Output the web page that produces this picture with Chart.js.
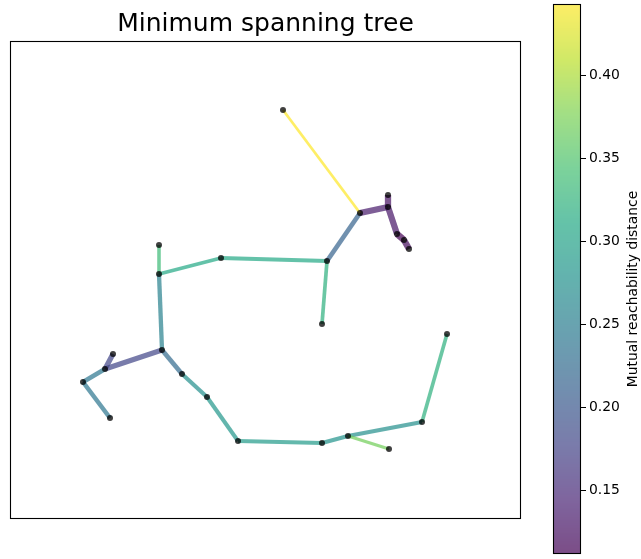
<!DOCTYPE html>
<html>
<head>
<meta charset="utf-8">
<script src="https://cdn.jsdelivr.net/npm/chart.js@4/dist/chart.umd.min.js"></script>
<style>
  html, body { margin: 0; padding: 0; background: #fff; }
  #wrap { position: relative; width: 641px; height: 559px; }
  #tree { position: absolute; left: 0; top: 0; }
  #cbar { position: absolute; left: 540px; top: 0; }
</style>
</head>
<body>
<div id="wrap">
  <canvas id="tree" width="641" height="559"></canvas>
  <canvas id="cbar" width="101" height="559"></canvas>
</div>
<script>
// Node positions of the minimum spanning tree
const nodeX = [273, 350, 378, 378, 387, 394, 399, 317, 312, 211, 149, 149, 152,
               95, 103, 73, 100, 172, 197, 228, 312, 338, 379, 412, 437];
const nodeY = [409, 306, 324, 312, 285, 279, 270, 258, 195, 261, 245, 274, 169,
               150, 165, 137, 101, 145, 122, 78, 76, 83, 70, 97, 185];

// Tree edges (node index pairs) and their mutual reachability distance
const edgeFrom = [0, 1, 3, 3, 4, 5, 1, 7, 7, 9, 10, 10, 12, 13, 13, 15, 12, 17, 18, 19, 20, 21, 21, 23];
const edgeTo   = [1, 3, 2, 4, 5, 6, 7, 8, 9, 10, 11, 12, 13, 14, 15, 16, 17, 18, 19, 20, 21, 22, 23, 24];
const edgeDist = [0.443, 0.135, 0.125, 0.13, 0.112, 0.12, 0.215, 0.32, 0.31, 0.31, 0.335, 0.255,
                  0.18, 0.18, 0.24, 0.24, 0.225, 0.275, 0.285, 0.29, 0.28, 0.37, 0.275, 0.32];

// Colour bar range and tick labels
const cbarMin = 0.112;
const cbarMax = 0.443;
const cbarTicks = [0.15, 0.20, 0.25, 0.30, 0.35, 0.40];

const FONT = "'DejaVu Sans', sans-serif";
const EDGE_ALPHA = 0.7;

// viridis colormap
const VIRIDIS = ['#440154', '#482475', '#414487', '#355f8d', '#2a788e', '#21918c',
                 '#22a884', '#44bf70', '#7ad151', '#bddf26', '#fde725'].map(h => [
  parseInt(h.slice(1, 3), 16), parseInt(h.slice(3, 5), 16), parseInt(h.slice(5, 7), 16)]);
function viridis(t, a) {
  t = Math.max(0, Math.min(1, t)) * (VIRIDIS.length - 1);
  const i = Math.min(VIRIDIS.length - 2, Math.floor(t));
  const f = t - i;
  const c = VIRIDIS[i].map((v, k) => Math.round(v + (VIRIDIS[i + 1][k] - v) * f));
  return `rgba(${c[0]},${c[1]},${c[2]},${a})`;
}
const norm = d => (d - cbarMin) / (cbarMax - cbarMin);

// Edge width shrinks with distance: 2pt * (log(max/d) + 1)
const dMax = Math.max(...edgeDist);
const widthFor = d => 2 * (Math.log(dMax / d) + 1) * (100 / 72);

const nodes = nodeX.map((x, i) => ({ x, y: nodeY[i] }));

const datasets = [{
  label: 'nodes',
  data: nodes,
  order: 0,
  pointRadius: 3,
  pointHoverRadius: 3,
  pointBackgroundColor: 'rgba(0,0,0,0.75)',
  pointBorderWidth: 0,
  showLine: false
}];
edgeFrom.forEach((a, k) => {
  const b = edgeTo[k];
  datasets.push({
    label: 'edge' + k,
    data: [nodes[a], nodes[b]],
    order: 1,
    showLine: true,
    borderColor: viridis(norm(edgeDist[k]), EDGE_ALPHA),
    borderWidth: widthFor(edgeDist[k]),
    borderCapStyle: 'butt',
    pointRadius: 0,
    pointHoverRadius: 0,
    fill: false
  });
});

const frame = {
  id: 'frame',
  afterDraw(chart) {
    const { ctx, chartArea: a } = chart;
    ctx.save();
    ctx.strokeStyle = '#000';
    ctx.lineWidth = 1.1;
    ctx.strokeRect(a.left + 0.5, a.top + 0.5, a.right - a.left - 1, a.bottom - a.top - 1);
    ctx.restore();
  }
};

new Chart(document.getElementById('tree'), {
  type: 'scatter',
  data: { datasets },
  options: {
    responsive: false,
    animation: false,
    devicePixelRatio: 1,
    layout: { padding: { left: 10, top: 0, right: 120, bottom: 40 } },
    scales: {
      x: { display: false, min: 0, max: 511 },
      y: { display: false, min: 0, max: 478 }
    },
    plugins: {
      legend: { display: false },
      tooltip: { enabled: false },
      title: {
        display: true,
        text: 'Minimum spanning tree',
        color: '#000',
        font: { family: FONT, size: 25, weight: 'normal' },
        padding: { top: 9, bottom: 2 }
      }
    }
  },
  plugins: [frame]
});

// Colour bar drawn into the chart area of a second chart, using its y scale
const colorBar = {
  id: 'colorBar',
  beforeDatasetsDraw(chart) {
    const { ctx, chartArea: a } = chart;
    const ys = chart.scales.y;
    ctx.save();
    for (let py = Math.floor(a.top); py < a.bottom; py++) {
      const v = ys.getValueForPixel(py + 0.5);
      ctx.fillStyle = viridis(norm(v), EDGE_ALPHA);
      ctx.fillRect(a.left, py, a.right - a.left, 1);
    }
    ctx.strokeStyle = '#000';
    ctx.lineWidth = 1.1;
    ctx.strokeRect(a.left + 0.5, a.top + 0.5, a.right - a.left - 1, a.bottom - a.top - 1);
    ctx.translate(93, (a.top + a.bottom) / 2 + 10);
    ctx.rotate(-Math.PI / 2);
    ctx.fillStyle = '#000';
    ctx.font = `13.9px ${FONT}`;
    ctx.textAlign = 'center';
    ctx.textBaseline = 'middle';
    ctx.fillText('Mutual reachability distance', 0, 0);
    ctx.restore();
  }
};

new Chart(document.getElementById('cbar'), {
  type: 'scatter',
  data: { datasets: [{ data: [] }] },
  options: {
    responsive: false,
    animation: false,
    devicePixelRatio: 1,
    layout: { padding: { left: 13, top: 4, right: 0, bottom: 5 } },
    scales: {
      x: { display: false, min: 0, max: 1 },
      y: {
        position: 'right',
        min: cbarMin,
        max: cbarMax,
        afterFit(s) { s.width = 60; s.paddingTop = 0; s.paddingBottom = 0; },
        afterBuildTicks(s) { s.ticks = cbarTicks.map(v => ({ value: v })); },
        border: { display: false },
        grid: { drawOnChartArea: false, drawTicks: true, tickLength: 5, color: '#000', tickWidth: 1 },
        ticks: {
          color: '#000',
          padding: 3,
          font: { family: FONT, size: 13.9 },
          callback: v => v.toFixed(2)
        }
      }
    },
    plugins: { legend: { display: false }, tooltip: { enabled: false } }
  },
  plugins: [colorBar]
});
</script>
</body>
</html>
